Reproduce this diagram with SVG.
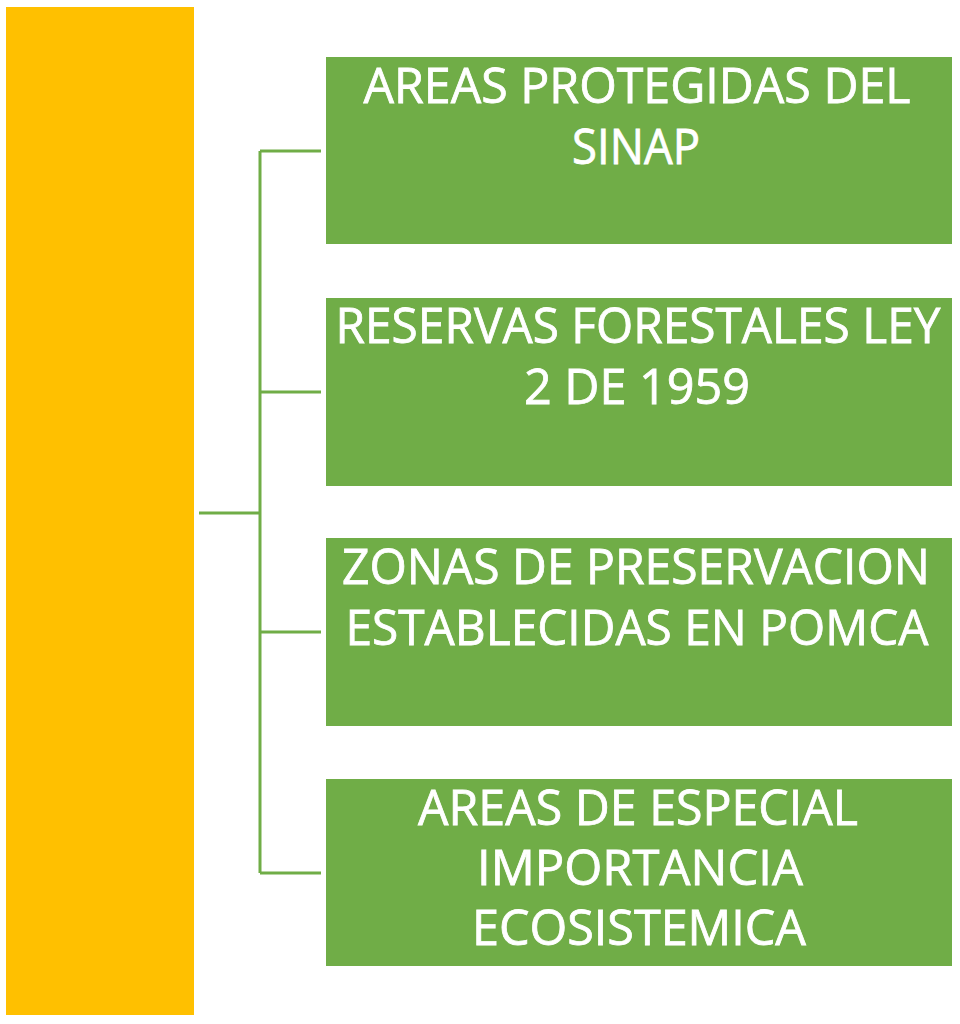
<svg xmlns="http://www.w3.org/2000/svg" width="960" height="1024" viewBox="0 0 960 1024">
<style>
.box{fill:#70AD47}
.lbl{font-family:"Open Sans","Liberation Sans",sans-serif;font-size:49px;fill:#FFFFFF;stroke:#FFFFFF;stroke-width:0.8;text-anchor:middle}
.conn{fill:none;stroke:#70AD47;stroke-width:3}
</style>
<rect width="960" height="1024" fill="#FFFFFF"/>
<g id="root"><rect x="6" y="7" width="188" height="1008" fill="#FFC000"/></g>
<g id="connectors">
<path class="conn" d="M199 513 H260 M260 151 V873 M260 151 H321 M260 392 H321 M260 632 H321 M260 873 H321"/>
</g>
<g id="node1"><rect class="box" x="326" y="57" width="626" height="187"/>
<text class="lbl" x="637" y="103" textLength="547" lengthAdjust="spacingAndGlyphs">AREAS PROTEGIDAS DEL</text>
<text class="lbl" x="636" y="164" textLength="128" lengthAdjust="spacingAndGlyphs">SINAP</text></g>
<g id="node2"><rect class="box" x="326" y="298" width="626" height="188"/>
<text class="lbl" x="638" y="343" textLength="605" lengthAdjust="spacingAndGlyphs">RESERVAS FORESTALES LEY</text>
<text class="lbl" x="637" y="404" textLength="226" lengthAdjust="spacingAndGlyphs">2 DE 1959</text></g>
<g id="node3"><rect class="box" x="326" y="538" width="626" height="188"/>
<text class="lbl" x="636" y="584" textLength="588" lengthAdjust="spacingAndGlyphs">ZONAS DE PRESERVACION</text>
<text class="lbl" x="637" y="645" textLength="583" lengthAdjust="spacingAndGlyphs">ESTABLECIDAS EN POMCA</text></g>
<g id="node4"><rect class="box" x="326" y="779" width="626" height="187"/>
<text class="lbl" x="638" y="825" textLength="440" lengthAdjust="spacingAndGlyphs">AREAS DE ESPECIAL</text>
<text class="lbl" x="640" y="885" textLength="326" lengthAdjust="spacingAndGlyphs">IMPORTANCIA</text>
<text class="lbl" x="639" y="945" textLength="334" lengthAdjust="spacingAndGlyphs">ECOSISTEMICA</text></g>
</svg>
